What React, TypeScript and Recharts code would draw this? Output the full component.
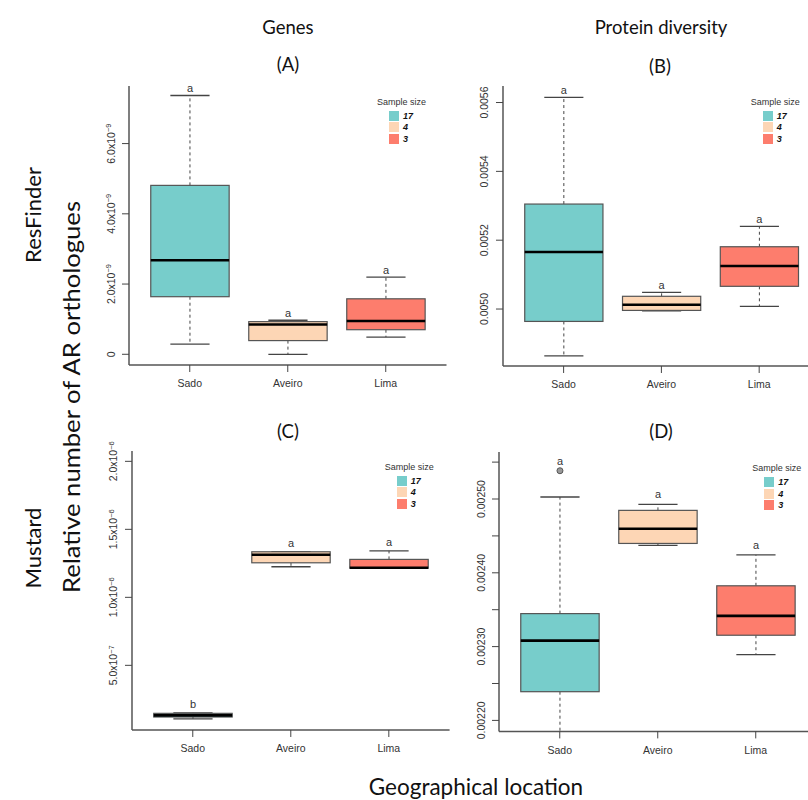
import React from 'react';
import { BarChart, Bar, Cell, XAxis, YAxis } from 'recharts';

const sites = ['Sado', 'Aveiro', 'Lima'];
const sampleSizes = [17, 4, 3];
const siteColors = ['#77CDCB', '#FDD6B5', '#FD7D6D'];

// (A) ResFinder - genes
const aMin = [0.29e-9, 0.0, 0.49e-9];
const aQ1 = [1.64e-9, 0.39e-9, 0.7e-9];
const aMed = [2.68e-9, 0.85e-9, 0.95e-9];
const aQ3 = [4.81e-9, 0.93e-9, 1.58e-9];
const aMax = [7.37e-9, 0.97e-9, 2.2e-9];
const aLetters = ['a', 'a', 'a'];
const aTicks = [0, 2e-9, 4e-9, 6e-9];

// (B) ResFinder - protein diversity
const bMin = [0.004864, 0.004995, 0.005008];
const bQ1 = [0.004964, 0.004996, 0.005066];
const bMed = [0.0051655, 0.0050125, 0.005125];
const bQ3 = [0.005305, 0.005037, 0.005181];
const bMax = [0.005615, 0.0050485, 0.00524];
const bLetters = ['a', 'a', 'a'];
const bTicks = [0.005, 0.0052, 0.0054, 0.0056];

// (C) Mustard - genes
const cMin = [0.107e-6, 1.225e-6, 1.214e-6];
const cQ1 = [0.12e-6, 1.254e-6, 1.2145e-6];
const cMed = [0.132e-6, 1.313e-6, 1.217e-6];
const cQ3 = [0.147e-6, 1.335e-6, 1.279e-6];
const cMax = [0.151e-6, 1.336e-6, 1.342e-6];
const cLetters = ['b', 'a', 'a'];
const cTicks = [5e-7, 1e-6, 1.5e-6, 2e-6];

// (D) Mustard - protein diversity
const dMin = [0.00217, 0.0024371, 0.0022891];
const dQ1 = [0.0022389, 0.0024398, 0.0023154];
const dMed = [0.0023081, 0.0024596, 0.0023416];
const dQ3 = [0.0023447, 0.0024846, 0.0023824];
const dMax = [0.0025027, 0.0024927, 0.0024244];
const dOutliers = [[0.0025383], [], []];
const dLetters = ['a', 'a', 'a'];
const dTicks = [0.0022, 0.00225, 0.0023, 0.00235, 0.0024, 0.00245, 0.0025, 0.00255];

const build = (mn, q1, md, q3, mx, letters, outliers = [[], [], []]) =>
  sites.map((site, i) => ({
    site,
    min: mn[i],
    q1: q1[i],
    med: md[i],
    q3: q3[i],
    max: mx[i],
    letter: letters[i],
    outliers: outliers[i],
  }));

const sciLabel = (v) => {
  if (v === 0) return { base: '0' };
  const e = Math.floor(Math.log10(v) + 1e-9);
  const m = v / Math.pow(10, e);
  return { base: m.toFixed(1) + 'x10', exp: '\u2212' + Math.abs(e) };
};
const fixedLabel = (d) => (v) => ({ base: v.toFixed(d) });
const everyOther = (v) => {
  const k = Math.round(v / 0.00005);
  return k % 2 === 0 ? { base: v.toFixed(5) } : { base: '' };
};

const TICK_FONT = '"Liberation Sans", Arial, sans-serif';
const FRAME = '#555';

const RotTick = (props) => {
  const { x, y, payload, fmt } = props;
  const lab = fmt(payload.value);
  if (!lab.base) return null;
  return (
    <g transform={`translate(${x - 5.5},${y})`}>
      <text transform="rotate(-90)" textAnchor="middle" fontSize={10.5} fill="#333" fontFamily={TICK_FONT}>
        {lab.base}
        {lab.exp && (
          <tspan dy={-4} fontSize={7.5}>
            {lab.exp}
          </tspan>
        )}
      </text>
    </g>
  );
};

const BoxShape = (props) => {
  const { x, y, width, height, payload, fill, letterGap } = props;
  const top = Math.min(y, y + height);
  const bot = Math.max(y, y + height);
  const { min, max, q1, med, q3, outliers, letter } = payload;
  const py = (v) => bot - ((v - min) / (max - min)) * (bot - top);
  const cx = x + width / 2;
  const cap = width / 4;
  const highest = Math.max(max, ...outliers);
  return (
    <g>
      <line x1={cx} x2={cx} y1={py(q3)} y2={py(max)} stroke="#444" strokeDasharray="3 3" />
      <line x1={cx} x2={cx} y1={py(q1)} y2={py(min)} stroke="#444" strokeDasharray="3 3" />
      <line x1={cx - cap} x2={cx + cap} y1={py(max)} y2={py(max)} stroke="#444" strokeWidth={1.3} />
      <line x1={cx - cap} x2={cx + cap} y1={py(min)} y2={py(min)} stroke="#444" strokeWidth={1.3} />
      <rect x={x} y={py(q3)} width={width} height={Math.max(py(q1) - py(q3), 0.5)} fill={fill} stroke="#555" strokeWidth={1.2} />
      <line x1={x} x2={x + width} y1={py(med)} y2={py(med)} stroke="#000" strokeWidth={2.6} />
      {outliers.map((o, i) => (
        <circle key={i} cx={cx} cy={py(o)} r={3} fill="#999" stroke="#555" strokeWidth={1} />
      ))}
      <text x={cx} y={py(highest) - letterGap} textAnchor="middle" fontSize={11} fill="#333" fontFamily={TICK_FONT}>
        {letter}
      </text>
    </g>
  );
};

const SampleLegend = ({ left, top }) => (
  <div style={{ position: 'absolute', left, top, fontFamily: TICK_FONT, color: '#333' }}>
    <div style={{ fontSize: 9, lineHeight: '11px', whiteSpace: 'nowrap' }}>Sample size</div>
    {sampleSizes.map((n, i) => (
      <div key={n} style={{ display: 'flex', alignItems: 'center', marginLeft: 12, marginTop: i === 0 ? 3 : 1.3, height: 10 }}>
        <div style={{ width: 10, height: 10, background: siteColors[i] }} />
        <span style={{ fontSize: 9, fontWeight: 'bold', fontStyle: 'italic', marginLeft: 4, color: '#111' }}>{n}</span>
      </div>
    ))}
  </div>
);

const Panel = ({ data, left, top, width, height, domain, ticks, fmt, letterGap, legendDx }) => {
  const padL = 60;
  const padT = 20;
  return (
    <>
      <div style={{ position: 'absolute', left: left - padL, top: top - padT }}>
        <BarChart
          width={width + padL + 12}
          height={height + padT + 40}
          data={data}
          margin={{ top: padT, right: 12, bottom: 0, left: 0 }}
          barSize={width * 0.8 / 3.24}
        >
          <XAxis
            dataKey="site"
            height={40}
            padding={{ left: width * 0.12 / 3.24, right: width * 0.12 / 3.24 }}
            tickSize={7}
            tickMargin={8}
            axisLine={{ stroke: FRAME, strokeWidth: 1.5 }}
            tickLine={{ stroke: '#444' }}
            tick={{ fill: '#333', fontSize: 10.5, fontFamily: TICK_FONT }}
          />
          <XAxis xAxisId="top" orientation="top" dataKey="site" height={0} tick={false} tickLine={false} axisLine={{ stroke: FRAME, strokeWidth: 1.5 }} />
          <YAxis
            type="number"
            width={padL}
            domain={domain}
            ticks={ticks}
            interval={0}
            allowDataOverflow
            tickSize={7}
            tickMargin={2}
            axisLine={{ stroke: FRAME, strokeWidth: 1.5 }}
            tickLine={{ stroke: '#444' }}
            tick={(p) => <RotTick {...p} fmt={fmt} />}
          />
          <YAxis yAxisId="right" orientation="right" width={0} tick={false} tickLine={false} axisLine={{ stroke: FRAME, strokeWidth: 1.5 }} />
          <Bar
            dataKey={(d) => [d.min, d.max]}
            isAnimationActive={false}
            shape={(p) => <BoxShape {...p} letterGap={letterGap} />}
          >
            {data.map((d, i) => (
              <Cell key={d.site} fill={siteColors[i]} />
            ))}
          </Bar>
        </BarChart>
      </div>
      <SampleLegend left={left + legendDx} top={top + 11} />
    </>
  );
};

const HEAD_FONT = 'Lato, "Open Sans", sans-serif';

export default function App() {
  return (
    <div style={{ position: 'absolute', left: 0, top: 0, width: 808, height: 800, overflow: 'hidden', background: '#fff' }}>
      <svg width={808} height={800} style={{ position: 'absolute', left: 0, top: 0 }} fontFamily={HEAD_FONT} fill="#111">
        <text x={288} y={34} textAnchor="middle" fontSize={18.5}>Genes</text>
        <text x={661} y={34} textAnchor="middle" fontSize={18.5}>Protein diversity</text>
        <text x={288} y={71} textAnchor="middle" fontSize={18.5}>(A)</text>
        <text x={660} y={73} textAnchor="middle" fontSize={18.5}>(B)</text>
        <text x={288} y={438} textAnchor="middle" fontSize={18.5}>(C)</text>
        <text x={661} y={438} textAnchor="middle" fontSize={18.5}>(D)</text>
        <text transform="translate(32,215) rotate(-90)" textAnchor="middle" dominantBaseline="central" fontSize={22}>ResFinder</text>
        <text transform="translate(32,548) rotate(-90)" textAnchor="middle" dominantBaseline="central" fontSize={22}>Mustard</text>
        <text transform="translate(71,397) rotate(-90)" textAnchor="middle" dominantBaseline="central" fontSize={23} textLength={392} lengthAdjust="spacingAndGlyphs">Relative number of AR orthologues</text>
        <text x={476} y={795} textAnchor="middle" fontSize={22.5}>Geographical location</text>
      </svg>
      <Panel
        data={build(aMin, aQ1, aMed, aQ3, aMax, aLetters)}
        left={129} top={86} width={317.5} height={279}
        domain={[-0.305e-9, 7.64e-9]} ticks={aTicks} fmt={sciLabel} letterGap={3} legendDx={248}
      />
      <Panel
        data={build(bMin, bQ1, bMed, bQ3, bMax, bLetters)}
        left={502.7} top={86} width={316.8} height={280}
        domain={[0.0048345, 0.005648]} ticks={bTicks} fmt={fixedLabel(4)} letterGap={3} legendDx={248}
      />
      <Panel
        data={build(cMin, cQ1, cMed, cQ3, cMax, cLetters)}
        left={131.7} top={451} width={317.6} height={279}
        domain={[0.0245e-6, 2.076e-6]} ticks={cTicks} fmt={sciLabel} letterGap={5} legendDx={253}
      />
      <Panel
        data={build(dMin, dQ1, dMed, dQ3, dMax, dLetters, dOutliers)}
        left={499.3} top={452.3} width={317.5} height={279.4}
        domain={[0.0021851, 0.0025637]} ticks={dTicks} fmt={everyOther} letterGap={6} legendDx={253}
      />
    </div>
  );
}
